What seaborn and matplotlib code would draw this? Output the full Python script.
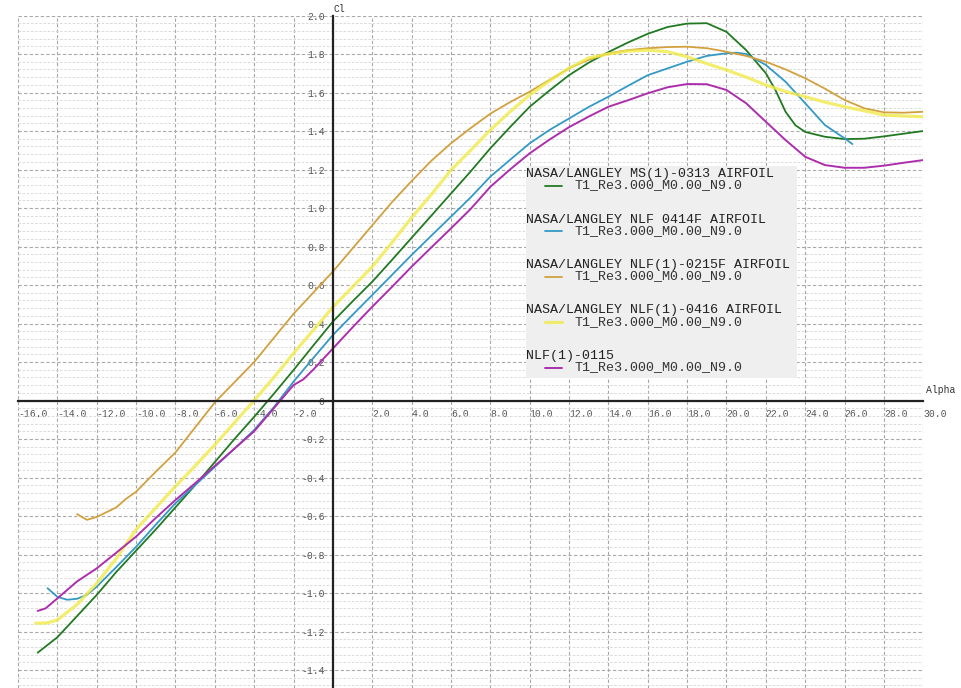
import numpy as np
import pandas as pd
import matplotlib
matplotlib.use("Agg")
import matplotlib.pyplot as plt
from matplotlib.ticker import MultipleLocator
from matplotlib.lines import Line2D
from matplotlib.patches import Rectangle
import seaborn as sns

# ---------------- data ----------------
names = [
    "NASA/LANGLEY MS(1)-0313 AIRFOIL",
    "NASA/LANGLEY NLF 0414F AIRFOIL",
    "NASA/LANGLEY NLF(1)-0215F AIRFOIL",
    "NASA/LANGLEY NLF(1)-0416 AIRFOIL",
    "NLF(1)-0115",
]
run_label = "T1_Re3.000_M0.00_N9.0"

alpha_ms0313 = [-15, -14, -13, -12, -11, -10, -9, -8, -7, -6, -5, -4, -3, -2, -1, 0, 1, 2, 3, 4, 5, 6, 7, 8, 9,
                10, 11, 12, 13, 14, 15, 16, 17, 18, 19, 20, 21, 22, 22.5, 23, 23.5, 24, 25, 26, 27, 28, 29, 30]
cl_ms0313 = [-1.31, -1.23, -1.12, -1.01, -0.89, -0.78, -0.67, -0.555, -0.44, -0.32, -0.20, -0.085, 0.035, 0.158,
             0.285, 0.41, 0.515, 0.617, 0.73, 0.845, 0.96, 1.075, 1.19, 1.31, 1.42, 1.526, 1.61, 1.69, 1.755, 1.81,
             1.86, 1.905, 1.94, 1.958, 1.96, 1.915, 1.82, 1.70, 1.61, 1.50, 1.43, 1.395, 1.37, 1.358, 1.36, 1.372,
             1.386, 1.40]

alpha_nlf0414f = [-14.5, -14, -13.5, -13, -12.5, -12, -11, -10, -9, -8, -7, -6, -5, -4, -3, -2, -1, 0, 1, 2, 3, 4, 5,
                  6, 7, 8, 9, 10, 11, 12, 13, 14, 15, 16, 17, 18, 19, 20, 20.5, 21, 22, 23, 24, 25, 26, 26.4]
cl_nlf0414f = [-0.975, -1.02, -1.035, -1.03, -1.01, -0.967, -0.865, -0.76, -0.645, -0.534, -0.44, -0.345, -0.25,
               -0.153, -0.035, 0.098, 0.22, 0.34, 0.445, 0.548, 0.652, 0.756, 0.856, 0.955, 1.055, 1.163, 1.25,
               1.336, 1.405, 1.465, 1.525, 1.578, 1.635, 1.69, 1.725, 1.76, 1.79, 1.804, 1.807, 1.80, 1.743, 1.656,
               1.544, 1.431, 1.362, 1.332]

alpha_nlf0215f = [-13, -12.5, -12, -11.5, -11, -10.5, -10, -9, -8, -7, -6, -5, -4, -3, -2, -1, 0, 1, 2, 3, 4, 5, 6,
                  7, 8, 9, 10, 11, 12, 13, 14, 15, 16, 17, 18, 19, 20, 21, 22, 23, 24, 25, 26, 27, 28, 29, 30]
cl_nlf0215f = [-0.59, -0.62, -0.605, -0.58, -0.555, -0.51, -0.474, -0.37, -0.27, -0.14, -0.01, 0.095, 0.20, 0.325,
               0.45, 0.56, 0.67, 0.79, 0.91, 1.03, 1.14, 1.245, 1.336, 1.415, 1.49, 1.55, 1.604, 1.665, 1.726, 1.77,
               1.804, 1.82, 1.83, 1.836, 1.838, 1.83, 1.812, 1.79, 1.76, 1.72, 1.674, 1.62, 1.561, 1.518, 1.497,
               1.495, 1.50]

alpha_nlf0416 = [-15.1, -14.5, -14, -13.5, -13, -12, -11, -10, -9, -8, -7, -6, -5, -4, -3, -2, -1, 0, 1, 2, 3, 4, 5,
                 6, 7, 8, 9, 10, 11, 12, 13, 14, 15, 16, 17, 18, 19, 20, 21, 22, 23, 24, 25, 26, 27, 28, 29, 30]
cl_nlf0416 = [-1.157, -1.155, -1.14, -1.10, -1.06, -0.95, -0.82, -0.67, -0.558, -0.446, -0.34, -0.23, -0.115, 0.0,
              0.12, 0.245, 0.365, 0.485, 0.59, 0.695, 0.82, 0.95, 1.07, 1.197, 1.30, 1.405, 1.50, 1.587, 1.66, 1.726,
              1.78, 1.80, 1.815, 1.82, 1.812, 1.786, 1.75, 1.717, 1.68, 1.639, 1.605, 1.578, 1.55, 1.526, 1.505,
              1.483, 1.478, 1.474]

alpha_nlf0115 = [-15, -14.6, -14, -13, -12, -11, -10, -9, -8, -7, -6, -5, -4, -3, -2, -1.5, -1, 0, 1, 2, 3, 4, 5, 6,
                 7, 8, 9, 10, 11, 12, 13, 14, 15, 16, 17, 18, 19, 20, 21, 22, 23, 24, 25, 26, 27, 28, 29, 30]
cl_nlf0115 = [-1.093, -1.08, -1.028, -0.94, -0.872, -0.79, -0.707, -0.61, -0.517, -0.43, -0.34, -0.25, -0.16, -0.04,
              0.08, 0.11, 0.16, 0.27, 0.38, 0.487, 0.59, 0.695, 0.795, 0.894, 0.995, 1.11, 1.20, 1.284, 1.355, 1.42,
              1.475, 1.526, 1.56, 1.596, 1.627, 1.644, 1.643, 1.613, 1.544, 1.448, 1.353, 1.266, 1.223, 1.209,
              1.209, 1.22, 1.235, 1.249]

x_ticks = list(np.arange(-16, 31, 2))
y_ticks = [-1.4, -1.2, -1.0, -0.8, -0.6, -0.4, -0.2, 0.0, 0.2, 0.4, 0.6, 0.8, 1.0, 1.2, 1.4, 1.6, 1.8, 2.0]

series = [
    (names[0], alpha_ms0313, cl_ms0313, "#217a21", 1.3, 1.0),
    (names[1], alpha_nlf0414f, cl_nlf0414f, "#3399c6", 1.3, 1.0),
    (names[2], alpha_nlf0215f, cl_nlf0215f, "#d2a13e", 1.3, 1.0),
    (names[3], alpha_nlf0416, cl_nlf0416, "#f0ea4a", 2.3, 0.8),
    (names[4], alpha_nlf0115, cl_nlf0115, "#ad2ead", 1.4, 1.0),
]

# ---------------- figure ----------------
sns.set_theme(style="white")
plt.rcParams["font.family"] = ["Liberation Mono", "DejaVu Sans Mono"]

W, H = 961, 688
fig = plt.figure(figsize=(W / 100, H / 100), dpi=100)
x0_px, x1_px, top_px = 18.0, 923.3, 15.5
ax = fig.add_axes([x0_px / W, 0.0, (x1_px - x0_px) / W, (H - top_px) / H])
ax.set_facecolor("white")

for name, a, c, col, lw, al in series:
    df = pd.DataFrame({"alpha": a, "cl": c})
    sns.lineplot(data=df, x="alpha", y="cl", ax=ax, color=col, linewidth=lw, alpha=al,
                 estimator=None, sort=False, legend=False, zorder=3)

ax.set_xlim(-16, 30)
ax.set_ylim(-1.4935, 2.0)
ax.set_xlabel("")
ax.set_ylabel("")

# spines through origin
for s in ["top", "right"]:
    ax.spines[s].set_visible(False)
ax.spines["left"].set_position(("data", 0))
ax.spines["bottom"].set_position(("data", 0))
for s in ["left", "bottom"]:
    ax.spines[s].set_color("#222222")
    ax.spines[s].set_linewidth(1.6)
    ax.spines[s].set_zorder(4)

# ticks
ax.set_xticks(x_ticks)
ax.set_xticklabels(["" if v == 0 else f"{v:.1f}" for v in x_ticks])
ax.set_yticks(y_ticks)
ax.set_yticklabels(["0" if abs(v) < 1e-9 else f"{v:.1f}" for v in y_ticks])
ax.tick_params(axis="x", which="major", direction="out", length=4, width=1.2, color="#222222",
               labelsize=7, labelcolor="#555555", pad=2)
ax.tick_params(axis="y", which="major", direction="out", length=4, width=1.2, color="#222222",
               labelsize=7, labelcolor="#555555", pad=2)
for lbl in ax.get_xticklabels():
    lbl.set_horizontalalignment("left")
ax.yaxis.set_minor_locator(MultipleLocator(0.04))
ax.tick_params(axis="y", which="minor", length=0)

# grid
ax.set_axisbelow(True)
ax.grid(which="major", axis="both", color="#a8a8a8", linestyle=(0, (3, 2)), linewidth=0.8, zorder=0)
ax.grid(which="minor", axis="y", color="#d4d4d4", linestyle=(0, (3, 2)), linewidth=0.6, zorder=0)

# axis titles
fig.text(926 / W, 1 - 390 / H, "Alpha", fontsize=7, color="#333333", va="center", ha="left")
fig.text(334 / W, 1 - 9 / H, "Cl", fontsize=7, color="#333333", va="center", ha="left")

# legend (drawn as a panel with two text lines per entry)
box = Rectangle((526 / W, 1 - 378 / H), (797 - 526) / W, (378 - 166) / H, transform=fig.transFigure,
                facecolor="#efefef", edgecolor="none", zorder=5)
fig.add_artist(box)
for i, (name, a, c, col, lw, al) in enumerate(series):
    ny = 174 + i * 45.5
    hy = ny + 11.5
    fig.text(526 / W, 1 - ny / H, name, fontsize=9.6, color="#222222", va="center", ha="left", zorder=6)
    fig.add_artist(Line2D([545 / W, 562 / W], [1 - hy / H, 1 - hy / H], transform=fig.transFigure,
                          color=col, linewidth=lw, alpha=al, zorder=6))
    fig.text(575 / W, 1 - hy / H, run_label, fontsize=9.6, color="#333333", va="center", ha="left", zorder=6)

fig.savefig("out.png", dpi=100, facecolor="white")
